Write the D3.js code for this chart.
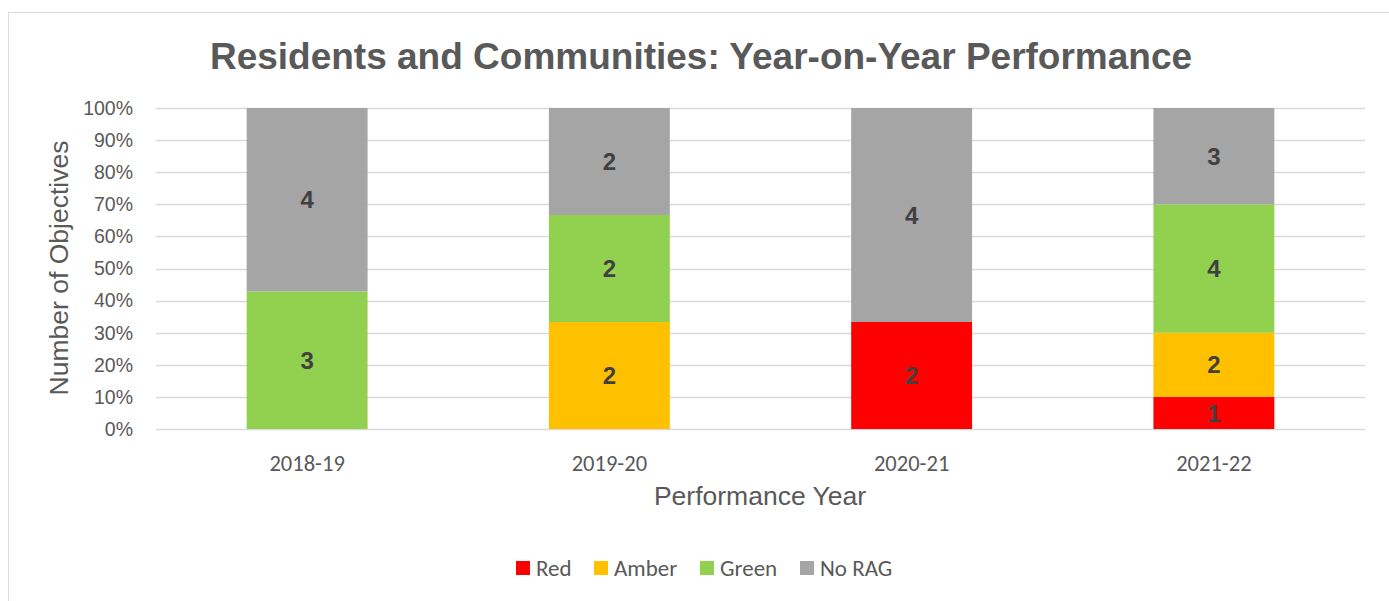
<!DOCTYPE html>
<html>
<head>
<meta charset="utf-8">
<script src="https://cdn.jsdelivr.net/npm/d3@7"></script>
<style>
  body { margin: 0; background: #fff; }
</style>
</head>
<body>
<svg id="chart"></svg>
<script>
const width = 1389, height = 601;
const margin = { top: 108, right: 24, bottom: 172, left: 156 };

const years = ["2018-19", "2019-20", "2020-21", "2021-22"];
const series = ["Red", "Amber", "Green", "No RAG"];
const colors = ["#FF0000", "#FFC000", "#92D050", "#A5A5A5"];
const redVals = [0, 0, 2, 1];
const amberVals = [0, 2, 0, 2];
const greenVals = [3, 2, 0, 4];
const noRagVals = [4, 2, 4, 3];
const yTicks = [0, 0.1, 0.2, 0.3, 0.4, 0.5, 0.6, 0.7, 0.8, 0.9, 1];

const svg = d3.select("#chart")
    .attr("width", width)
    .attr("height", height);

// chart border
svg.append("rect")
    .attr("x", 8.5).attr("y", 12.5)
    .attr("width", width).attr("height", height)
    .attr("fill", "none")
    .attr("stroke", "#D9D9D9");

const rows = years.map((y, i) => ({
    year: y,
    "Red": redVals[i], "Amber": amberVals[i], "Green": greenVals[i], "No RAG": noRagVals[i]
}));

const stacked = d3.stack().keys(series).offset(d3.stackOffsetExpand)(rows);

const xScale = d3.scaleBand()
    .domain(years)
    .range([margin.left, width - margin.right])
    .paddingInner(0.6)
    .paddingOuter(0.3);

const yScale = d3.scaleLinear()
    .domain([0, 1])
    .range([height - margin.bottom, margin.top]);

// gridlines
svg.append("g")
    .selectAll("line")
    .data(yTicks)
    .join("line")
    .attr("x1", margin.left)
    .attr("x2", width - margin.right)
    .attr("y1", d => Math.round(yScale(d)) + 0.5)
    .attr("y2", d => Math.round(yScale(d)) + 0.5)
    .attr("stroke", "#D9D9D9")
    .attr("stroke-width", 1.5);

// y tick labels
svg.append("g")
    .selectAll("text")
    .data(yTicks)
    .join("text")
    .attr("x", margin.left - 23)
    .attr("y", d => yScale(d))
    .attr("dy", "0.35em")
    .attr("text-anchor", "end")
    .style("font-family", "Liberation Sans, Arial, sans-serif")
    .style("font-size", "19.5px")
    .style("fill", "#595959")
    .text(d => d3.format(".0%")(d));

// bars
const layers = svg.append("g")
    .selectAll("g")
    .data(stacked)
    .join("g")
    .attr("fill", (d, i) => colors[i]);

layers.selectAll("rect")
    .data(d => d)
    .join("rect")
    .attr("x", d => xScale(d.data.year))
    .attr("y", d => yScale(d[1]))
    .attr("width", xScale.bandwidth())
    .attr("height", d => yScale(d[0]) - yScale(d[1]));

// value labels
stacked.forEach(layer => {
    svg.append("g")
        .selectAll("text")
        .data(layer.filter(d => d.data[layer.key] > 0))
        .join("text")
        .attr("x", d => xScale(d.data.year) + xScale.bandwidth() / 2)
        .attr("y", d => (yScale(d[0]) + yScale(d[1])) / 2)
        .attr("dy", "0.36em")
        .attr("text-anchor", "middle")
        .style("font-family", "Liberation Sans, Arial, sans-serif")
        .style("font-weight", "bold")
        .style("font-size", "24px")
        .style("fill", "#404040")
        .text(d => d.data[layer.key]);
});

// x tick labels
svg.append("g")
    .selectAll("text")
    .data(years)
    .join("text")
    .attr("x", d => xScale(d) + xScale.bandwidth() / 2)
    .attr("y", 471)
    .attr("text-anchor", "middle")
    .style("font-family", "Carlito, Calibri, Lato, sans-serif")
    .style("font-size", "22.5px")
    .style("fill", "#595959")
    .text(d => d);

// title
svg.append("text")
    .attr("x", 701)
    .attr("y", 69)
    .attr("text-anchor", "middle")
    .style("font-family", "Liberation Sans, Arial, sans-serif")
    .style("font-weight", "bold")
    .style("font-size", "37px")
    .style("fill", "#595959")
    .text("Residents and Communities: Year-on-Year Performance");

// axis titles
svg.append("text")
    .attr("transform", "rotate(-90)")
    .attr("x", -268)
    .attr("y", 68)
    .attr("text-anchor", "middle")
    .style("font-family", "Liberation Sans, Arial, sans-serif")
    .style("font-size", "26.5px")
    .style("fill", "#595959")
    .text("Number of Objectives");

svg.append("text")
    .attr("x", 760)
    .attr("y", 505)
    .attr("text-anchor", "middle")
    .style("font-family", "Liberation Sans, Arial, sans-serif")
    .style("font-size", "26.5px")
    .style("fill", "#595959")
    .text("Performance Year");

// legend
const legendX = [516, 594, 700, 800];
const legend = svg.append("g")
    .selectAll("g")
    .data(series)
    .join("g")
    .attr("transform", (d, i) => `translate(${legendX[i]},561)`);

legend.append("rect")
    .attr("width", 14).attr("height", 14)
    .attr("fill", (d, i) => colors[i]);

legend.append("text")
    .attr("x", 20)
    .attr("y", 7)
    .attr("dy", "0.36em")
    .style("font-family", "Carlito, Calibri, Lato, sans-serif")
    .style("font-size", "23px")
    .style("fill", "#595959")
    .text(d => d);
</script>
</body>
</html>
